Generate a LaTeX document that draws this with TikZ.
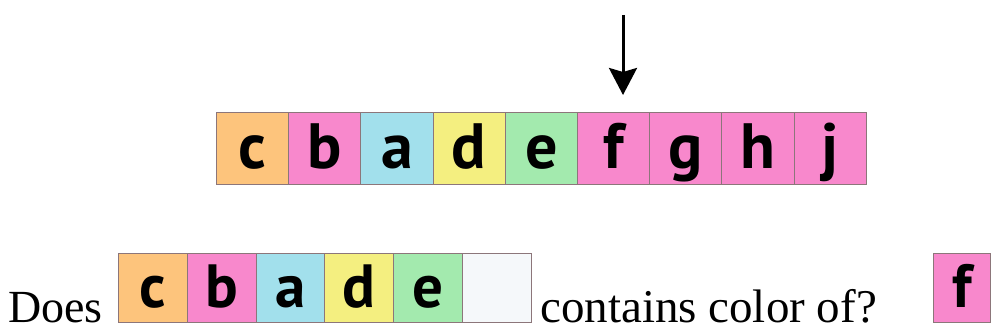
\documentclass[tikz,border=0pt]{standalone}
\usepackage{fontspec}
\setmainfont{Liberation Serif}
\newfontfamily\cellfont{PT Sans}
\usetikzlibrary{arrows.meta}

\definecolor{cOrange}{RGB}{253,196,124}
\definecolor{cPink}{RGB}{248,136,204}
\definecolor{cCyan}{RGB}{162,224,236}
\definecolor{cYellow}{RGB}{244,239,128}
\definecolor{cGreen}{RGB}{163,234,174}
\definecolor{cBlank}{RGB}{245,248,250}
\definecolor{cEdge}{RGB}{140,118,122}

\tikzset{
  cell/.style={draw=cEdge, line width=0.9pt, inner sep=0pt, anchor=north west,
    minimum width=72.2pt, text height=56pt, text depth=16pt,
    font=\cellfont\bfseries\fontsize{64}{64}\selectfont},
  smallcell/.style={draw=cEdge, line width=0.9pt, inner sep=0pt, anchor=north west,
    minimum width=68.8pt, text height=53.7pt, text depth=15.3pt,
    font=\cellfont\bfseries\fontsize{61}{61}\selectfont},
  words/.style={inner sep=0pt, anchor=base west, font=\fontsize{46}{46}\selectfont},
  pointer/.style={line width=3pt, -{Stealth[width=28pt,length=27pt,inset=4pt]}}
}

\begin{document}
\begin{tikzpicture}[x=1pt,y=-1pt]
  \useasboundingbox (0,0) rectangle (992,331);

  % the full sequence
  \node[cell, fill=cOrange] (t1) at (216.0,112) {c};
  \node[cell, fill=cPink]   (t2) at (288.2,112) {b};
  \node[cell, fill=cCyan]   (t3) at (360.4,112) {a};
  \node[cell, fill=cYellow] (t4) at (432.6,112) {d};
  \node[cell, fill=cGreen]  (t5) at (504.8,112) {e};
  \node[cell, fill=cPink]   (t6) at (577.0,112) {f};
  \node[cell, fill=cPink]   (t7) at (649.2,112) {g};
  \node[cell, fill=cPink]   (t8) at (721.4,112) {h};
  \node[cell, fill=cPink]   (t9) at (793.6,112) {j};

  % pointer to the current element
  \coordinate (ptop) at (623,15);
  \coordinate (ptip) at (623,95);
  \draw[pointer] (ptop) -- (ptip);

  % the question
  \node[words] (does) at (8,322) {Does};
  \node[smallcell, fill=cOrange] (b1) at (118.0,253) {c};
  \node[smallcell, fill=cPink]   (b2) at (186.8,253) {b};
  \node[smallcell, fill=cCyan]   (b3) at (255.6,253) {a};
  \node[smallcell, fill=cYellow] (b4) at (324.4,253) {d};
  \node[smallcell, fill=cGreen]  (b5) at (393.2,253) {e};
  \node[smallcell, fill=cBlank]  (b6) at (462.0,253) {};
  \node[words, font=\fontsize{47}{47}\selectfont] (ask) at (540,322) {contains color of?};
  \node[smallcell, fill=cPink, minimum width=57pt] (q) at (933,253) {f};
\end{tikzpicture}
\end{document}
